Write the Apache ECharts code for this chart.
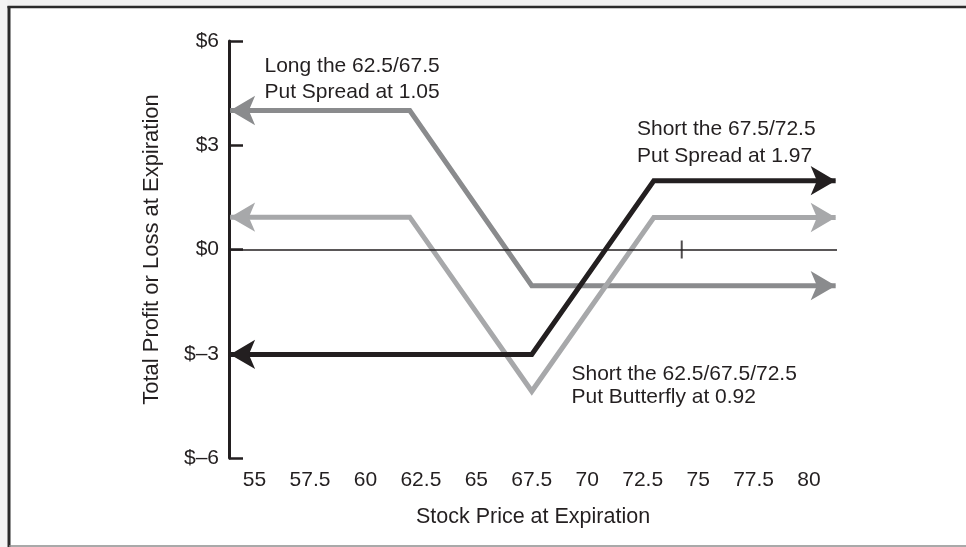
<!DOCTYPE html>
<html>
<head>
<meta charset="utf-8">
<script src="https://cdn.jsdelivr.net/npm/echarts@6/dist/echarts.min.js"></script>
<style>
html,body{margin:0;padding:0;background:#fff;}
#chart{width:966px;height:547px;}
</style>
</head>
<body>
<div id="chart"></div>
<script>
// ---- data ----
const xTickValues = [55, 57.5, 60, 62.5, 65, 67.5, 70, 72.5, 75, 77.5, 80];
const yTickValues = [-6, -3, 0, 3, 6];
const yTickLabels = ['$\u20136', '$\u20133', '$0', '$3', '$6'];

const longSpreadX = [53.9, 62.0, 67.5, 81.2];
const longSpreadY = [4.0, 4.0, -1.04, -1.04];

const butterflyX = [53.9, 62.0, 67.5, 73.0, 81.2];
const butterflyY = [0.93, 0.93, -4.08, 0.92, 0.92];

const shortSpreadX = [53.9, 67.5, 73.0, 81.2];
const shortSpreadY = [-3.02, -3.02, 1.98, 1.98];

const markerX = [74.26];
const markerY = [0];

const xName = 'Stock Price at Expiration';
const yName = 'Total Profit or Loss at Expiration';
const longLabel = ['Long the 62.5/67.5', 'Put Spread at 1.05'];
const shortLabel = ['Short the 67.5/72.5', 'Put Spread at 1.97'];
const flyLabel = ['Short the 62.5/67.5/72.5', 'Put Butterfly at 0.92'];

// ---- styling ----
const FONT = '"Liberation Sans", Arial, Helvetica, sans-serif';
const INK = '#231f20';
const DARK_GRAY = '#8a8b8d';
const LIGHT_GRAY = '#a7a8aa';
const ARROW = [22, 25];

function buildData(xs, ys) {
  return xs.map(function (x, i) {
    const item = { value: [x, ys[i]], symbolSize: 0 };
    if (i === 0) { item.symbolSize = ARROW; item.symbolRotate = 90; }
    if (i === xs.length - 1) { item.symbolSize = ARROW; item.symbolRotate = -90; }
    return item;
  });
}

function lineSeries(xs, ys, color, z) {
  return {
    type: 'line',
    data: buildData(xs, ys),
    symbol: 'arrow',
    showSymbol: true,
    showAllSymbol: true,
    z: z,
    silent: true,
    lineStyle: { color: color, width: 5, join: 'miter', cap: 'butt' },
    itemStyle: { color: color, borderWidth: 0 },
    emphasis: { disabled: true }
  };
}

const chart = echarts.init(document.getElementById('chart'), null, { renderer: 'canvas' });

function txt(x, y, s) {
  return {
    type: 'text', left: x, top: y - 9.5, z: 100, silent: true,
    style: { text: s, font: '21px ' + FONT, fill: INK }
  };
}

const option = {
  animation: false,
  backgroundColor: '#ffffff',
  textStyle: { fontFamily: FONT },
  grid: { left: 229, right: 129, top: 41, bottom: 89, containLabel: false, outerBoundsMode: 'none' },
  xAxis: {
    type: 'value',
    min: 53.85,
    max: 81.26,
    axisLine: { show: false },
    axisTick: { show: false },
    splitLine: { show: false },
    axisLabel: {
      customValues: xTickValues,
      fontSize: 21, color: INK, margin: 12, fontFamily: FONT,
      formatter: function (v) { return String(v); }
    },
    name: xName,
    nameLocation: 'middle',
    nameGap: 48,
    nameTextStyle: { fontSize: 21.5, color: INK, fontFamily: FONT }
  },
  yAxis: {
    type: 'value',
    min: -6, max: 6, interval: 3,
    axisLine: { show: true, lineStyle: { color: INK, width: 3 } },
    axisTick: { show: true, inside: true, length: 14, lineStyle: { color: INK, width: 2.5 } },
    splitLine: { show: false },
    axisLabel: {
      fontSize: 21, color: INK, margin: 10, fontFamily: FONT,
      formatter: function (v) {
        const i = yTickValues.indexOf(v);
        return i >= 0 ? yTickLabels[i] : '';
      }
    },
    name: yName,
    nameLocation: 'middle',
    nameGap: 66,
    nameTextStyle: { fontSize: 22, color: INK, fontFamily: FONT }
  },
  series: [
    {
      type: 'scatter',
      data: markerX.map(function (x, i) { return [x, markerY[i]]; }),
      symbol: 'rect',
      symbolSize: [2, 18],
      itemStyle: { color: INK },
      silent: true,
      z: 1,
      markLine: {
        silent: true,
        symbol: 'none',
        label: { show: false },
        lineStyle: { color: INK, width: 1.5, type: 'solid' },
        emphasis: { disabled: true },
        data: [{ yAxis: 0 }]
      }
    },
    lineSeries(longSpreadX, longSpreadY, DARK_GRAY, 3),
    lineSeries(butterflyX, butterflyY, LIGHT_GRAY, 4),
    lineSeries(shortSpreadX, shortSpreadY, INK, 5)
  ],
  graphic: [
    { type: 'rect', left: 0, top: 0, z: -10, silent: true, shape: { width: 966, height: 6 }, style: { fill: '#f1f1f1' } },
    { type: 'rect', left: 0, top: 0, z: -10, silent: true, shape: { width: 7.5, height: 547 }, style: { fill: '#f4f4f4' } },
    { type: 'line', z: 50, silent: true, shape: { x1: 7.5, y1: 7, x2: 966, y2: 7 }, style: { stroke: '#2b2b2b', lineWidth: 2.5 } },
    { type: 'line', z: 50, silent: true, shape: { x1: 9, y1: 6, x2: 9, y2: 547 }, style: { stroke: '#2b2b2b', lineWidth: 3 } },
    { type: 'line', z: 50, silent: true, shape: { x1: 9, y1: 546, x2: 966, y2: 546 }, style: { stroke: '#8c8c8c', lineWidth: 1.5 } },
    txt(264.5, 65.2, longLabel[0]),
    txt(264.5, 91.7, longLabel[1]),
    txt(637, 128.3, shortLabel[0]),
    txt(637, 154.8, shortLabel[1]),
    txt(571.5, 373.3, flyLabel[0]),
    txt(571.5, 396.5, flyLabel[1])
  ]
};

chart.setOption(option);
</script>
</body>
</html>
